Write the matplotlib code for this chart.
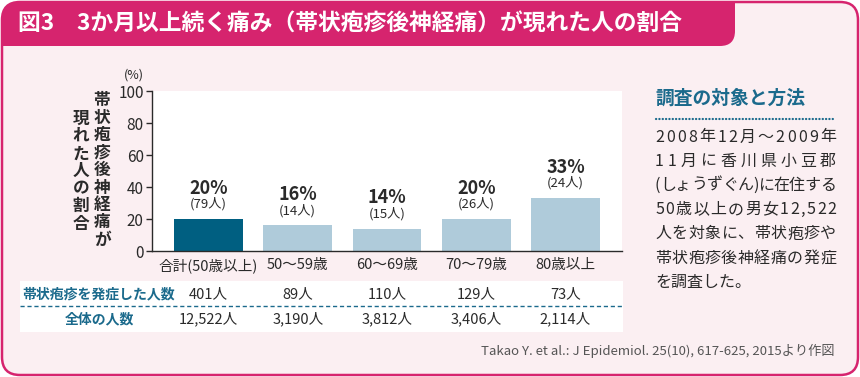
import matplotlib
matplotlib.use('Agg')
import matplotlib.pyplot as plt
from matplotlib.patches import FancyBboxPatch, Rectangle

plt.rcParams['font.family'] = ['Noto Sans CJK JP', 'DejaVu Sans']

PINK = '#d6246e'
BG = '#fbeff2'
TEAL = '#1b6a8c'
DARK_BAR = '#005f81'
LIGHT_BAR = '#afcbda'
INK = '#2a2a2a'

# data
categories = ['合計(50歳以上)', '50～59歳', '60～69歳', '70～79歳', '80歳以上']
percent = [20, 16, 14, 20, 33]
pain_counts = [79, 14, 15, 26, 24]
zoster_counts = [401, 89, 110, 129, 73]
total_counts = [12522, 3190, 3812, 3406, 2114]
ylabel_right = '帯状疱疹後神経痛が'
ylabel_left = '現れた人の割合'
title = '図3　3か月以上続く痛み（帯状疱疹後神経痛）が現れた人の割合'
method_title = '調査の対象と方法'
method_lines = ['2008年12月～2009年', '11月に香川県小豆郡', '(しょうずぐん)に在住する',
                '50歳以上の男女12,522', '人を対象に、帯状疱疹や', '帯状疱疹後神経痛の発症',
                'を調査した。']
source = 'Takao Y. et al.: J Epidemiol. 25(10), 617-625, 2015より作図'

fig = plt.figure(figsize=(8.6, 3.77), dpi=100)

# background layer in pixel coordinates (y down)
bg = fig.add_axes([0, 0, 1, 1])
bg.set_xlim(0, 860)
bg.set_ylim(377, 0)
bg.axis('off')

frame = FancyBboxPatch((2, 2), 856, 373, boxstyle='round,pad=0,rounding_size=18',
                       fc=BG, ec='none')
bg.add_patch(frame)
bar_head = FancyBboxPatch((-30, -30), 765, 76, boxstyle='round,pad=0,rounding_size=15',
                          fc=PINK, ec='none')
bg.add_patch(bar_head)
bar_head.set_clip_path(frame)
bg.add_patch(FancyBboxPatch((2, 2), 856, 373, boxstyle='round,pad=0,rounding_size=18',
                            fc='none', ec=PINK, lw=1.8))

bg.text(18, 23, title, color='white', fontsize=16.4, fontweight='bold', va='center')

# table under the chart
bg.add_patch(Rectangle((20, 281), 603, 51, fc='white', ec='none'))
bg.plot([20, 623], [306, 306], color=TEAL, lw=1, linestyle=(0, (3, 2)))

# vertical y label
for i, ch in enumerate(ylabel_right):
    bg.text(102, 100 + 17.5 * i, ch, fontsize=12, fontweight='bold', color=INK,
            ha='center', va='center')
for i, ch in enumerate(ylabel_left):
    bg.text(81, 118.5 + 17.5 * i, ch, fontsize=12, fontweight='bold', color=INK,
            ha='center', va='center')
bg.text(134, 75, '(%)', fontsize=9, color=INK, ha='center', va='center')

# method panel
bg.text(655, 98, method_title, fontsize=13.5, fontweight='bold', color=TEAL, va='center')
bg.plot([656, 836], [119, 119], color=TEAL, lw=1.6, linestyle=(0, (0.1, 1.4)),
        dash_capstyle='round')

renderer = fig.canvas.get_renderer()


def justify(s, x0, x1, y, **kw):
    ts = [bg.text(0, y, c, va='center', **kw) for c in s]
    ws = [t.get_window_extent(renderer).width for t in ts]
    gap = (x1 - x0 - sum(ws)) / (len(s) - 1)
    x = x0
    for t, w in zip(ts, ws):
        t.set_x(x)
        x += w + gap


for i, line in enumerate(method_lines):
    y = 137 + 24.2 * i
    if i == len(method_lines) - 1:
        bg.text(655, y, line, fontsize=11.5, color=INK, va='center')
    else:
        justify(line, 655, 836, y, fontsize=11.5, color=INK)

bg.text(835, 351, source, fontsize=9.5, color='#555555', ha='right', va='center')

# bar chart
ax = fig.add_axes([152 / 860, (377 - 251) / 377, 470 / 860, 160 / 377])
x = range(len(categories))
colors = [DARK_BAR] + [LIGHT_BAR] * (len(categories) - 1)
ax.bar(x, percent, width=0.77, color=colors)
ax.set_xlim(-0.633, len(categories) - 1 + 0.633)
ax.set_ylim(0, 100)
ax.set_yticks(range(0, 101, 20))
ax.set_xticks(list(x))
ax.set_xticklabels(categories, fontsize=10.5, color=INK)
ax.tick_params(axis='x', length=0, pad=5)
ax.tick_params(axis='y', length=4, width=1, labelsize=11, colors=INK, pad=2)
for s in ['top', 'right']:
    ax.spines[s].set_visible(False)
for s in ['left', 'bottom']:
    ax.spines[s].set_color(INK)
    ax.spines[s].set_linewidth(1)

for i, (p, n) in enumerate(zip(percent, pain_counts)):
    ax.annotate(f'{p}%', xy=(i, p), xytext=(0, 31), textcoords='offset pixels',
                ha='center', va='center', fontsize=13, fontweight='bold', color=INK)
    ax.annotate(f'({n}人)', xy=(i, p), xytext=(0, 15), textcoords='offset pixels',
                ha='center', va='center', fontsize=9.5, color=INK)

# table rows aligned to bars
bg.text(22, 294, '帯状疱疹を発症した人数', fontsize=10, fontweight='bold', color=TEAL, va='center')
bg.text(99, 319, '全体の人数', fontsize=10, fontweight='bold', color=TEAL, va='center', ha='center')
for i, (a, b) in enumerate(zip(zoster_counts, total_counts)):
    xp = ax.transData.transform((i, 0))[0]
    bg.text(xp, 294, f'{a:,}人', fontsize=10.5, color=INK, ha='center', va='center')
    bg.text(xp, 319, f'{b:,}人', fontsize=10.5, color=INK, ha='center', va='center')

fig.savefig('out.png', dpi=100)
